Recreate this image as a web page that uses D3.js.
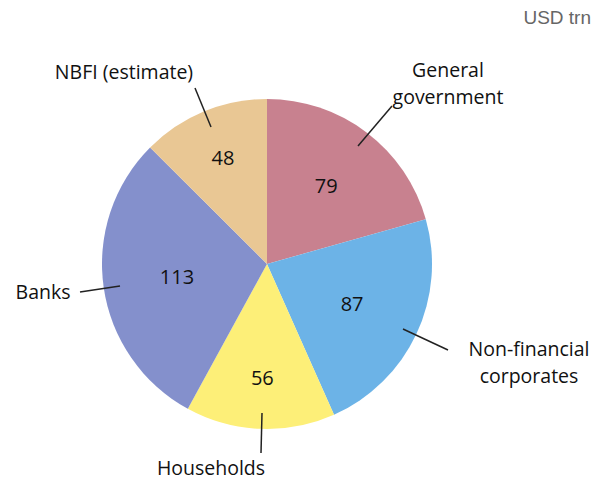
<!DOCTYPE html>
<html>
<head>
<meta charset="utf-8">
<script src="https://cdn.jsdelivr.net/npm/d3@7"></script>
<style>
  body { margin: 0; background: #fff; }
  svg { display: block; }
</style>
</head>
<body>
<div id="viz"></div>
<script>
var width = 603;
var height = 480;
var radius = 165;
var cx = 267, cy = 264;

// data
var sectors = ["General government", "Non-financial corporates", "Households", "Banks", "NBFI (estimate)"];
var values = [79, 87, 56, 113, 48];
var colors = ["#c8818f", "#6cb3e7", "#fdef78", "#8490cc", "#e9c794"];
var unitLabel = "USD trn";

// layout for labels (not data)
var valueR = [98, 94, 114, 91, 115];
var callouts = [
	{ lines: ["General", "government"], x: 448, y: 70, from: [392, 106], to: [358, 146] },
	{ lines: ["Non-financial", "corporates"], x: 529, y: 349, from: [403, 329], to: [448, 350] },
	{ lines: ["Households"], x: 211, y: 468, from: [262, 413], to: [261, 453] },
	{ lines: ["Banks"], x: 43, y: 292, from: [80, 292], to: [120, 286] },
	{ lines: ["NBFI (estimate)"], x: 124, y: 72, from: [195, 88], to: [211, 127] }
];

var rows = sectors.map(function(s, i) { return { name: s, value: values[i], color: colors[i] }; });

var pie = d3.pie()
	.sort(null)
	.value(function(d) { return d.value; });

var arc = d3.arc()
	.innerRadius(0)
	.outerRadius(radius);

var svg = d3.select("#viz").append("svg")
	.attr("width", width)
	.attr("height", height);

var g = svg.append("g")
	.attr("transform", "translate(" + cx + "," + cy + ")");

var slices = pie(rows);

g.selectAll(".slice")
		.data(slices)
	.enter().append("path")
		.attr("class", "slice")
		.attr("d", arc)
		.style("fill", function(d) { return d.data.color; });

g.selectAll(".val")
		.data(slices)
	.enter().append("text")
		.attr("class", "val")
		.attr("x", function(d, i) { var a = (d.startAngle + d.endAngle) / 2; return Math.sin(a) * valueR[i]; })
		.attr("y", function(d, i) { var a = (d.startAngle + d.endAngle) / 2; return -Math.cos(a) * valueR[i]; })
		.attr("dy", "0.35em")
		.attr("text-anchor", "middle")
		.style("font-family", "'Open Sans', sans-serif")
		.style("font-size", "20px")
		.style("fill", "#111")
		.text(function(d) { return d.data.value; });

// callout lines and labels
svg.selectAll(".leader")
		.data(callouts)
	.enter().append("line")
		.attr("class", "leader")
		.attr("x1", function(d) { return d.from[0]; })
		.attr("y1", function(d) { return d.from[1]; })
		.attr("x2", function(d) { return d.to[0]; })
		.attr("y2", function(d) { return d.to[1]; })
		.style("stroke", "#222")
		.style("stroke-width", 1.5);

var lab = svg.selectAll(".lab")
		.data(callouts)
	.enter().append("text")
		.attr("class", "lab")
		.attr("text-anchor", "middle")
		.style("font-family", "'Open Sans', sans-serif")
		.style("font-size", "19.5px")
		.style("fill", "#111");

lab.selectAll("tspan")
		.data(function(d) { return d.lines.map(function(l, j) { return { t: l, x: d.x, y: d.y + j * 27 }; }); })
	.enter().append("tspan")
		.attr("x", function(d) { return d.x; })
		.attr("y", function(d) { return d.y; })
		.attr("dy", "0.35em")
		.text(function(d) { return d.t; });

svg.append("text")
	.attr("x", 591)
	.attr("y", 17)
	.attr("dy", "0.35em")
	.attr("text-anchor", "end")
	.style("font-family", "'Liberation Sans', Arial, sans-serif")
	.style("font-size", "19px")
	.style("fill", "#666")
	.text(unitLabel);
</script>
</body>
</html>
